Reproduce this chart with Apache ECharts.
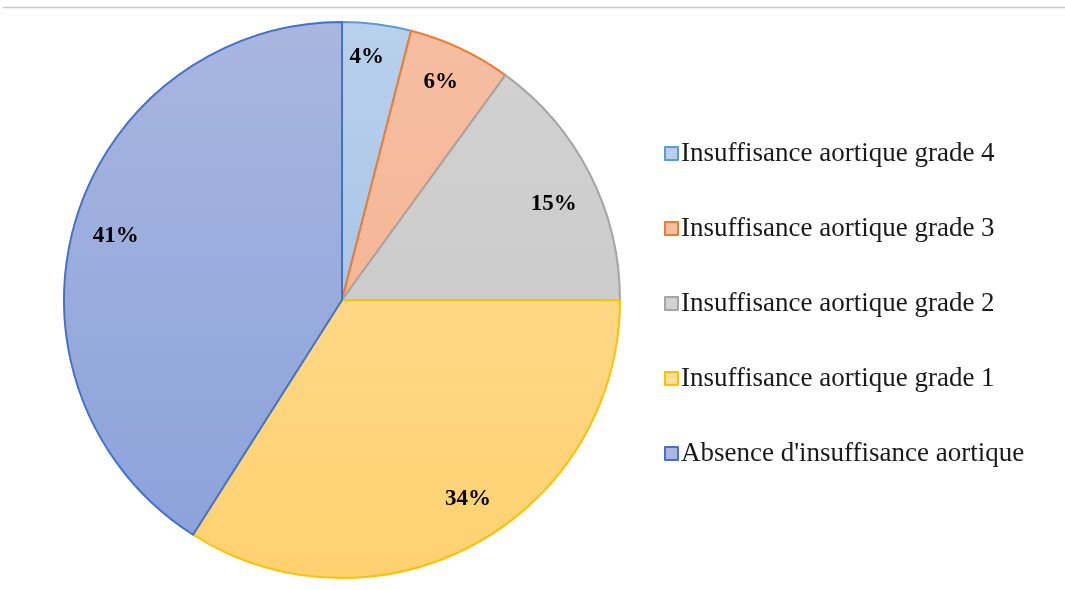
<!DOCTYPE html>
<html><head><meta charset="utf-8">
<script src="https://cdn.jsdelivr.net/npm/echarts@6/dist/echarts.min.js"></script>
<style>html,body{margin:0;padding:0;background:#fff}#c{width:1065px;height:590px}</style>
</head><body><div id="c"></div>
<script>
const categories = ["Insuffisance aortique grade 4","Insuffisance aortique grade 3","Insuffisance aortique grade 2","Insuffisance aortique grade 1","Absence d'insuffisance aortique"];
const values = [4, 6, 15, 34, 41];
const topColors = ['#B9D0EC','#F6BEA2','#D2D2D2','#FFDE9C','#A8B6E0'];
const bottomColors = ['#9DBAE4','#F3AE8C','#C6C6C6','#FFD170','#8AA1DA'];
const borderColors = ['#5B9BD5','#ED7D31','#A5A5A5','#FFC000','#4472C4'];
const labelNudges = [[-5,-8],[-2,-4],[1,11],[12,-8],[1,2]];

const cx = 342, cy = 300, R = 278;
function grad(i){
  return {type:'linear', global:true, x:0, y:cy-R, x2:0, y2:cy+R,
    colorStops:[{offset:0,color:topColors[i]},{offset:1,color:bottomColors[i]}]};
}
const data = categories.map((n,i)=>({name:n, value:values[i],
  itemStyle:{color:grad(i), borderColor:borderColors[i], borderWidth:2}}));
const labelData = categories.map((n,i)=>({name:n, value:values[i], label:{offset:labelNudges[i]}}));

const chart = echarts.init(document.getElementById('c'), null, {renderer:'canvas'});
chart.setOption({
  animation:false,
  graphic:[{type:'line', shape:{x1:3,y1:7.5,x2:1065,y2:7.5}, style:{stroke:'#C8C8C8', lineWidth:1.5}}],
  legend:{
    orient:'vertical', left:659, top:135,
    icon:'rect', itemWidth:13, itemHeight:13, itemGap:48,
    data:categories,
    textStyle:{fontFamily:'Liberation Serif', fontSize:27, color:'#1a1a1a', padding:[0,0,0,-2]},
    selectedMode:false
  },
  series:[
    {type:'pie', center:[cx,cy], radius:[0,R], startAngle:90, clockwise:true,
     data:data, label:{show:false}, labelLine:{show:false}, emphasis:{disabled:true}, silent:true},
    {type:'pie', center:[cx,cy], radius:[R*0.68,R], startAngle:90, clockwise:true,
     data:labelData, itemStyle:{color:'rgba(0,0,0,0)'}, silent:true, legendHoverLink:false,
     emphasis:{disabled:true},
     label:{show:true, position:'inside', formatter:p=>p.value+'%',
       fontFamily:'Liberation Serif', fontWeight:'bold', fontSize:23, color:'#000'},
     labelLine:{show:false}}
  ]
});
</script></body></html>
